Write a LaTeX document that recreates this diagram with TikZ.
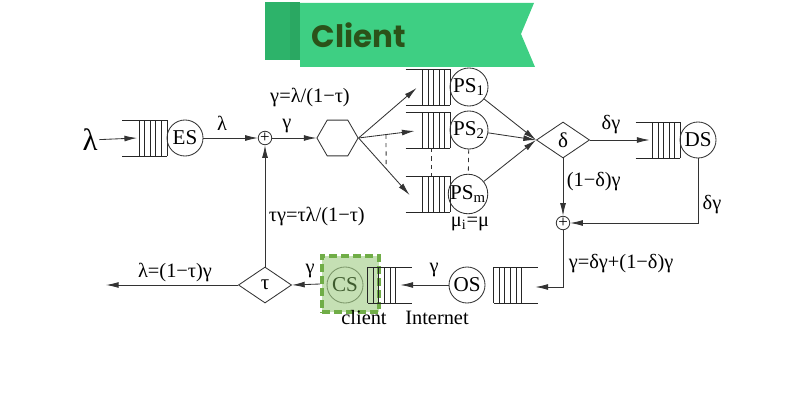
\documentclass[tikz,border=0pt]{standalone}
\usepackage{fontspec}
\setmainfont{Liberation Serif}
\newfontfamily\bannerfont{Poppins}
\usetikzlibrary{calc,shapes.geometric,arrows.meta}
\definecolor{ribbon}{HTML}{3ECF83}
\definecolor{ribbonback}{HTML}{2DB36A}
\definecolor{ribbonfold}{HTML}{2AA862}
\definecolor{ribbontext}{HTML}{2B5219}
\definecolor{clientfill}{HTML}{C5E0B4}
\definecolor{clientedge}{HTML}{70AD47}
\definecolor{clienttext}{HTML}{3E5B2E}
\definecolor{clientring}{HTML}{7A9668}
\tikzstyle{server} = [draw, circle, minimum size=.9cm, inner sep=0pt, font=\fontsize{15}{16}\selectfont]
\tikzstyle{pserver} = [server, minimum size=.95cm]
\tikzstyle{queue} = [minimum width=1.1cm, minimum height=.875cm, inner sep=0pt]
\tikzstyle{qline} = [black!85, line width=.5pt]
\tikzstyle{adder} = [draw, circle, minimum size=.3cm, inner sep=0pt, font=\fontsize{12}{12}\selectfont]
\tikzstyle{decision} = [draw, diamond, minimum width=1.33cm, minimum height=.9cm, inner sep=0pt, font=\fontsize{15}{16}\selectfont]
\tikzstyle{splitter} = [draw, regular polygon, regular polygon sides=6, minimum size=1.03cm, inner sep=0pt]
\tikzstyle{lbl} = [inner sep=1pt, font=\fontsize{14.5}{16}\selectfont]
\tikzstyle{clientbox} = [draw=clientedge, line width=2.8pt, dash pattern=on 5.5pt off 3pt, fill=clientfill, minimum size=1.42cm]
% queue with the open end on the left / on the right
\newcommand{\qopenleft}[1]{%
  \draw[qline] (#1.north west) -- (#1.north east) (#1.south west) -- (#1.south east);
  \foreach \k in {0,...,5}
    \draw[qline] ($(#1.north east)+(-5.6*\k,0)$) -- ($(#1.south east)+(-5.6*\k,0)$);}
\newcommand{\qopenright}[1]{%
  \draw[qline] (#1.north west) -- (#1.north east) (#1.south west) -- (#1.south east);
  \foreach \k in {0,...,5}
    \draw[qline] ($(#1.north west)+(5.6*\k,0)$) -- ($(#1.south west)+(5.6*\k,0)$);}
\begin{document}
\begin{tikzpicture}[x=.025cm, y=-.025cm, >={Latex[length=9pt,width=4.2pt]}, line width=.6pt, draw=black!80]
    \useasboundingbox (0,0) rectangle (800,400);

    % banner
    \fill[ribbonback] (265,2) rectangle (300,60);
    \fill[ribbonfold] (290,2) rectangle (300,60);
    \fill[ribbon] (300,3) -- (534,3) -- (521,34) -- (535,67) -- (300,67) -- cycle;
    \node[anchor=west, inner sep=0pt, text=ribbontext, font=\bannerfont\bfseries\fontsize{22}{22}\selectfont] (title) at (311,35) {Client};

    % servers and queues
    \node[font=\fontsize{22}{22}\selectfont, inner sep=1pt] (lam) at (90,140) {λ};
    \node[queue] (esq) at (144.5,138) {};
    \qopenleft{esq}
    \node[server] (es) at (185,138) {ES};
    \node[adder] (add1) at (265,138) {+};
    \node[splitter] (hex) at (337.5,138) {};

    \node[queue] (q1) at (428,87) {};
    \qopenleft{q1}
    \node[pserver] (ps1) at (469,87) {PS\textsubscript{1}};
    \node[queue] (q2) at (428,130) {};
    \qopenleft{q2}
    \node[pserver] (ps2) at (469,130) {PS\textsubscript{2}};
    \node[queue] (q3) at (428,194) {};
    \qopenleft{q3}
    \node[pserver] (psm) at (468,194) {PS\textsubscript{m}};

    \node[decision] (delta) at (563,140) {δ};
    \node[queue] (dsq) at (658,140) {};
    \qopenleft{dsq}
    \node[server] (ds) at (698,140) {DS};
    \node[adder] (add2) at (563,223) {+};

    \node[queue] (osq) at (516,285) {};
    \qopenright{osq}
    \node[server] (os) at (467,285) {OS};

    \node[clientbox] (cbox) at (350.5,284) {};
    \node[queue] (csq) at (390,285) {};
    \qopenright{csq}
    \node[server, draw=clientring, text=clienttext] (cs) at (345,285) {CS};

    \node[decision] (tau) at (265,285) {τ};
    \coordinate (out) at (106,285);

    % connectors
    \draw[->] (lam) -- ($(esq.west)+(15,0)$);
    \draw[->] (es) -- (add1);
    \draw[->] (add1) -- (hex);
    \draw[->] (hex.east) -- ($(q1.west)+(11,1)$);
    \draw[->] (hex.east) -- coordinate[pos=.49] (d2) ($(q2.west)+(9,1)$);
    \draw[->] (hex.east) -- coordinate[pos=.54] (d3) ($(q3.west)+(4,1)$);
    \draw[dashed] (d2) -- (d3);
    \draw[dashed] ($(q2.south west)+(26,0)$) -- ($(q3.north west)+(26,0)$);
    \draw[dashed] (ps2) -- (psm);
    \draw[->] (ps1) -- (delta.west);
    \draw[->] (ps2) -- (delta.west);
    \draw[->] (psm) -- (delta.west);
    \draw[->] (delta.east) -- ($(dsq.west)+(14,0)$);
    \draw[->] (ds) |- (add2);
    \draw[->] (delta.south) -- (add2);
    \draw[->] (add2) |- ($(osq.east)+(-3,2)$);
    \draw[->] (os) -- ($(csq.east)+(-12,0)$);
    \draw[->] (cbox.west) -- (tau.east);
    \draw[->] (tau) -- (add1);
    \draw[->] (tau.west) -- (out);

    % labels
    \node[lbl] (l1) at (222,123) {λ};
    \node[lbl] (l2) at (287,126) {γ};
    \node[lbl] (l3) at (310,97) {γ=λ/(1−τ)};
    \node[lbl] (l4) at (470,224) {μ\textsubscript{i}=μ};
    \node[lbl] (l5) at (611,125) {δγ};
    \node[lbl, anchor=west] (l6) at (565,182) {(1−δ)γ};
    \node[lbl] (l7) at (712,205) {δγ};
    \node[lbl, anchor=west] (l8) at (567,264) {γ=δγ+(1−δ)γ};
    \node[lbl] (l9) at (434,270) {γ};
    \node[lbl] (l10) at (437,318) {Internet};
    \node[lbl] (l11) at (364,318) {client};
    \node[lbl] (l12) at (310,271) {γ};
    \node[lbl] (l13) at (175,272) {λ=(1−τ)γ};
    \node[lbl, anchor=west] (l14) at (267,216) {τγ=τλ/(1−τ)};
\end{tikzpicture}
\end{document}
